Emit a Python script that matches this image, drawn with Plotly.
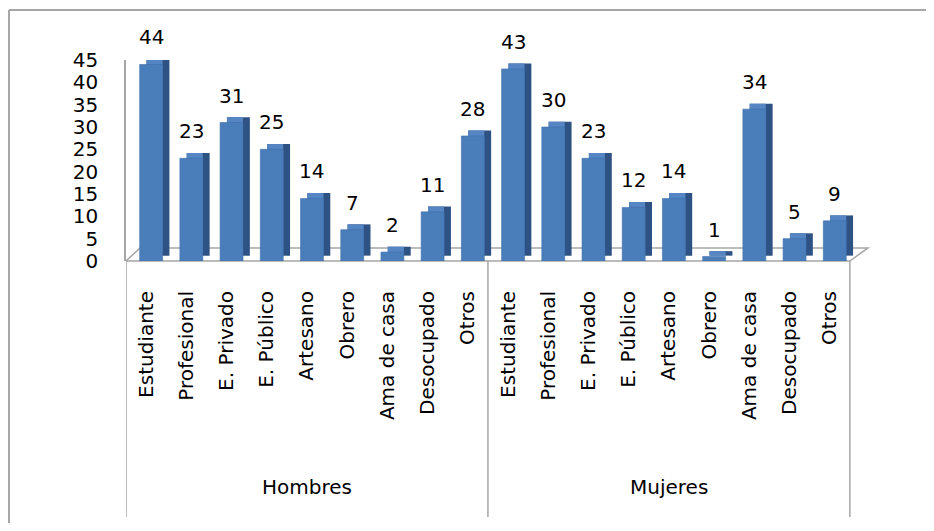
import plotly.graph_objects as go

categories = ["Estudiante", "Profesional", "E. Privado", "E. Público", "Artesano",
              "Obrero", "Ama de casa", "Desocupado", "Otros"]
groups = ["Hombres", "Mujeres"]
hombres = [44, 23, 31, 25, 14, 7, 2, 11, 28]
mujeres = [43, 30, 23, 12, 14, 1, 34, 5, 9]
y_ticks = [0, 5, 10, 15, 20, 25, 30, 35, 40, 45]

values = hombres + mujeres
labels = categories * len(groups)
n_cat = len(categories)
idx = list(range(len(values)))

FONT = "DejaVu Sans"
FS = 20
GRAY = "#A6A6A6"

# 3D-ish look: depth offsets (style)
dx, dy, bw = 0.17, 1.2, 0.57
front_off = -0.16

fig = go.Figure()
# back / side face (dark)
fig.add_trace(go.Bar(x=idx, y=values, base=dy, offset=front_off + dx, width=bw,
                     marker=dict(color="#2E5283", line=dict(width=0)),
                     hoverinfo="skip", showlegend=False))
# top face (medium)
fig.add_trace(go.Bar(x=idx, y=values, base=dy, offset=front_off + dx, width=bw - dx,
                     marker=dict(color="#5585C2", line=dict(width=0)),
                     hoverinfo="skip", showlegend=False))
# front face
fig.add_trace(go.Bar(x=idx, y=values, offset=front_off, width=bw,
                     marker=dict(color="#4A7EBB", line=dict(color="#3F6FAA", width=0.6)),
                     hoverinfo="skip", showlegend=False))

# data labels
for i, v in zip(idx, values):
    fig.add_annotation(x=i, y=v, xref="x", yref="y", text=str(v), showarrow=False,
                       xshift=5, yshift=27, yanchor="middle",
                       font=dict(family=FONT, size=FS, color="#000000"))

# group labels
for g, name in enumerate(groups):
    fig.add_annotation(x=g * n_cat + (n_cat - 1) / 2, y=-1.124, xref="x", yref="paper",
                       text=name, showarrow=False, yanchor="middle",
                       font=dict(family=FONT, size=FS, color="#000000"))

shapes = []
# floor parallelogram
x_lo, x_hi = -0.5, len(values) - 0.5
shapes.append(dict(type="path", xref="x", yref="paper", layer="below",
                   path=f"M {x_lo},0 L {x_hi},0 L {x_hi + 0.45},0.065 L {x_lo + 0.35},0.065 Z",
                   line=dict(color=GRAY, width=1.5), fillcolor="rgba(0,0,0,0)"))
# group dividers
for g in range(len(groups) + 1):
    xv = g * n_cat - 0.5
    shapes.append(dict(type="line", xref="x", yref="paper", x0=xv, x1=xv, y0=0, y1=-1.274,
                       line=dict(color=GRAY, width=1.5), layer="below"))
# chart border (left and top edges only visible)
shapes.append(dict(type="line", xref="paper", yref="paper", x0=-0.1556, x1=-0.1556,
                   y0=-3, y1=1.2488, line=dict(color=GRAY, width=2), layer="below"))
shapes.append(dict(type="line", xref="paper", yref="paper", x0=-0.1556, x1=3,
                   y0=1.2488, y1=1.2488, line=dict(color=GRAY, width=2), layer="below"))

fig.update_layout(
    width=918, height=515,
    margin=dict(l=118, r=48, t=52, b=262),
    paper_bgcolor="white", plot_bgcolor="white",
    barmode="overlay", showlegend=False,
    shapes=shapes,
    font=dict(family=FONT, size=FS, color="#000000"),
    xaxis=dict(range=[-0.5, 18.2], tickmode="array", tickvals=idx, ticktext=labels,
               tickangle=-90, showgrid=False, zeroline=False, showline=False,
               ticks="", ticklabelstandoff=25,
               tickfont=dict(family=FONT, size=FS, color="#000000")),
    yaxis=dict(range=[0, 45], tickmode="array", tickvals=y_ticks,
               showgrid=False, zeroline=False, showline=True, linecolor=GRAY,
               linewidth=1.5, ticks="", ticklabelstandoff=22,
               tickfont=dict(family=FONT, size=FS, color="#000000")),
)

fig.write_html("out.html")
